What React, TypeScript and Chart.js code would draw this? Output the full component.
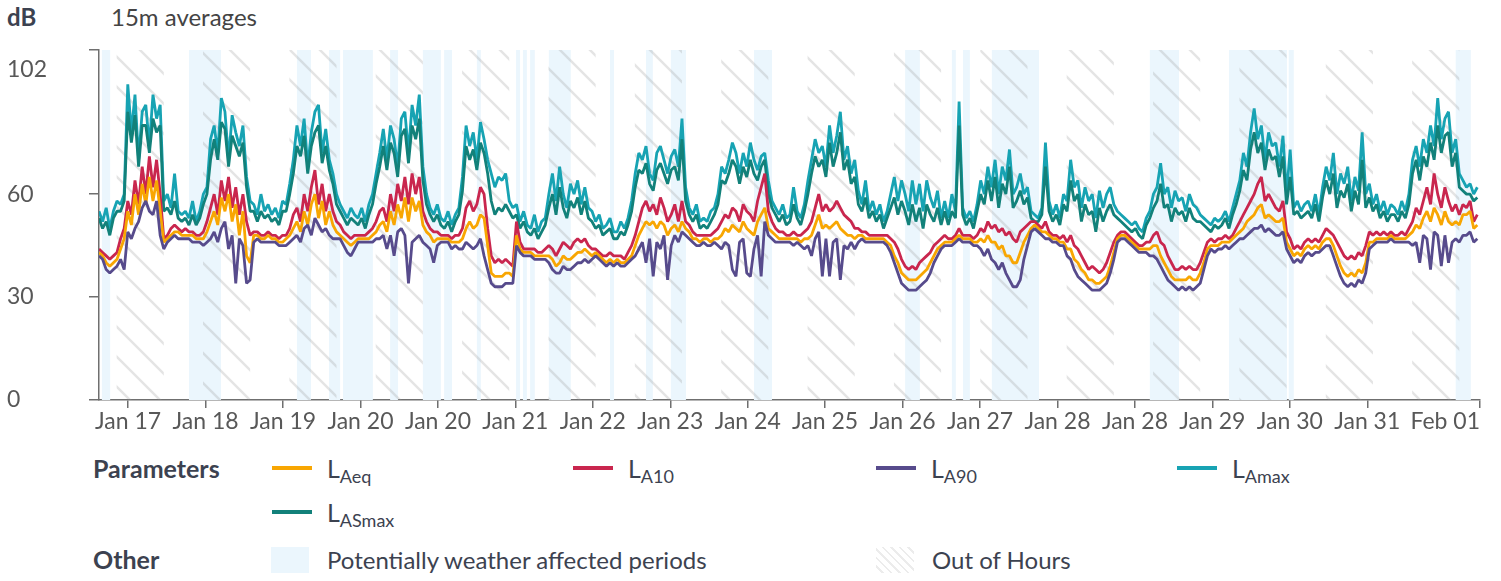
import React, { useEffect, useRef } from 'react';
import { Chart, registerables } from 'chart.js';

Chart.register(...registerables);

// ---------- data (hourly readings, hour 0 = Jan 17 00:00) ----------
const X_MIN = 0;
const X_MAX = 383.75;
const Y_MIN = 0;
const Y_MAX = 102;
const Y_TICKS = [0, 30, 60, 102];
const X_TICK_HOURS = [0, 8.1, 29.62, 51.14, 72.66, 94.18, 115.7, 137.22, 158.74, 180.26, 201.78, 223.3, 244.82, 266.34, 287.86, 309.38, 330.9, 352.42, 383.75];
const X_TICK_LABELS = ['', 'Jan 17', 'Jan 18', 'Jan 19', 'Jan 20', 'Jan 20', 'Jan 21', 'Jan 22', 'Jan 23', 'Jan 24', 'Jan 25', 'Jan 26', 'Jan 27', 'Jan 28', 'Jan 28', 'Jan 29', 'Jan 30', 'Jan 31', 'Feb 01'];

const LAMAX = [
  55,52,56,50,55,58,57,60, 92,78,89,70,84,86,74,89,82,86, 58,60,56,66,55,54,
  55,53,58,52,55,60,62,76, 80,72,88,84,70,83,78,74,80,65, 58,57,54,60,55,57,
  54,56,53,58,57,63,70,80, 74,82,68,78,84,86,72,79,70,66, 60,57,55,53,56,54,
  53,56,52,57,60,66,72,79, 70,80,76,68,82,84,72,86,80,89, 68,60,56,54,57,53,
  52,55,51,54,56,65,80,74, 78,70,81,76,70,66,62,65,64,66, 58,56,57,52,55,51,
  50,54,49,52,53,60,66,58, 68,60,56,63,60,64,57,62,56,55, 52,54,50,51,53,49,
  49,52,50,53,58,66,72,70, 74,66,64,72,74,70,66,71,73,68, 82,62,56,54,57,52,
  53,52,55,56,60,68,66,70, 75,72,66,72,68,75,70,67,71,72, 64,58,56,54,57,53,
  54,62,55,53,57,64,70,76, 72,74,68,80,72,77,84,70,74,66, 70,61,57,64,55,58,
  54,57,52,55,60,65,58,64, 60,55,64,57,63,55,64,59,56,61, 53,58,53,60,55,87,
  56,53,55,52,57,64,60,68, 62,70,60,68,64,73,60,62,66,60, 62,55,54,53,56,75,
  58,54,57,53,60,58,70,62, 64,56,62,58,60,53,61,56,60,62, 57,55,54,53,52,51,
  52,50,49,53,55,60,62,69, 60,62,56,61,58,59,55,60,57,56, 54,53,52,51,53,52,
  53,55,52,56,60,64,72,68, 78,85,76,80,70,78,74,75,68,77, 60,73,56,58,55,57,
  58,55,60,54,62,68,64,72, 60,66,63,68,58,65,61,78,60,63, 57,60,55,58,54,57,
  56,54,58,55,60,70,74,68, 76,72,80,74,88,76,82,84,72,76, 66,64,62,63,60,62,
];

const LASMAX = [
  53,50,52,48,53,55,55,58, 84,75,83,68,80,80,72,82,78,80, 55,56,54,58,53,52,
  53,51,54,51,53,57,60,70, 76,70,81,79,68,77,74,71,75,62, 55,55,52,55,53,54,
  52,53,51,55,55,60,66,74, 71,77,66,74,78,80,69,74,67,63, 57,55,53,51,53,52,
  51,53,50,54,57,63,68,74, 67,75,72,65,77,79,69,80,76,82, 64,57,54,52,54,51,
  50,52,49,52,54,61,74,70, 73,67,75,72,66,58,54,56,55,57, 55,53,54,50,52,49,
  48,50,47,49,51,56,60,54, 62,56,53,58,56,59,54,58,53,52, 50,51,48,49,50,47,
  47,49,48,51,55,62,67,66, 69,63,61,67,69,66,63,67,68,64, 76,58,54,52,54,50,
  51,50,52,54,57,64,63,66, 70,68,63,68,65,70,66,64,68,70, 60,56,54,52,54,51,
  52,57,53,51,55,60,66,71, 68,70,65,75,68,72,78,67,70,63, 65,57,55,59,53,55,
  52,54,50,53,56,59,54,58, 55,51,57,52,56,50,57,54,52,56, 51,55,51,55,53,80,
  54,51,53,50,55,60,57,64, 58,65,56,63,60,68,56,58,61,57, 59,53,52,52,54,68,
  55,52,54,51,57,55,64,58, 60,52,57,54,55,49,56,52,55,57, 54,53,52,51,50,49,
  50,48,47,51,53,56,58,63, 56,57,52,56,54,55,52,56,53,52, 52,51,50,49,51,50,
  51,53,50,54,57,61,67,64, 73,78,72,75,67,73,70,71,65,71, 57,65,54,55,53,54,
  55,53,57,52,59,64,60,66, 56,61,59,63,55,61,57,70,56,59, 55,57,53,55,52,54,
  54,52,55,53,57,66,70,64, 71,68,75,70,80,72,77,78,68,72, 62,61,60,60,58,59,
];

const LA10 = [
  44,43,42,41,42,43,47,50, 58,54,64,57,68,60,71,62,70,60, 47,48,50,51,50,49,
  50,49,49,48,48,49,52,56, 60,54,64,58,65,56,62,54,60,52, 48,49,49,48,48,49,
  48,48,47,48,48,50,54,56, 52,60,55,62,67,57,63,55,60,55, 52,51,49,48,47,48,
  48,48,48,49,50,52,55,56, 52,60,55,63,58,65,57,66,60,65, 55,52,50,49,49,48,
  48,48,47,48,48,50,56,58, 55,57,62,60,50,42,40,41,40,41, 40,39,52,46,44,44,
  44,44,43,43,44,45,44,42, 44,46,45,44,46,47,46,47,45,44, 44,43,42,42,43,42,
  42,42,41,43,45,48,52,56, 58,55,57,54,59,56,52,54,57,52, 58,52,51,49,48,48,
  48,48,48,49,50,52,54,53, 56,55,52,57,55,54,52,58,62,66, 55,52,50,49,49,48,
  48,49,48,48,49,50,52,56, 60,55,57,55,56,58,56,54,53,52, 50,50,49,49,48,48,
  48,48,48,48,47,46,44,41, 39,38,39,38,40,41,42,43,45,46, 47,48,47,47,48,50,
  48,48,48,47,48,50,49,52, 50,51,49,50,48,49,47,46,49,50, 51,52,52,51,50,52,
  49,48,48,47,48,46,48,45, 44,42,40,38,39,38,37,38,40,43, 46,48,49,49,48,47,
  46,45,45,46,46,48,49,46, 45,42,40,38,38,39,38,39,38,38, 40,43,46,47,46,47,
  47,48,47,48,50,52,54,56, 58,60,63,65,58,60,58,56,55,58, 49,47,44,45,44,46,
  47,46,47,46,48,50,49,48, 46,44,42,41,42,41,43,42,45,49, 48,49,48,49,48,49,
  48,48,49,48,50,52,56,54, 58,62,57,66,60,56,62,58,55,57, 54,57,56,58,52,54,
];

const LAEQ = [
  43,42,40,39,40,41,44,47, 55,51,60,54,63,57,65,58,64,55, 46,47,48,49,49,48,
  48,48,48,47,47,47,49,52, 55,51,59,55,60,52,57,48,55,42, 40,48,48,47,47,48,
  47,47,46,46,47,48,50,52, 49,55,51,57,60,53,58,51,55,51, 49,48,47,46,45,46,
  47,47,47,47,48,49,51,52, 49,55,51,57,53,59,52,59,55,58, 51,49,48,46,47,47,
  47,47,46,46,46,47,50,52, 50,51,54,53,45,37,36,36,36,37, 37,36,48,44,43,43,
  43,42,42,42,42,42,41,39, 40,42,41,41,42,43,43,44,43,42, 43,42,41,40,41,40,
  41,40,40,41,42,45,48,50, 52,51,52,50,52,51,48,50,51,49, 52,50,49,47,47,46,
  47,47,46,47,47,48,50,49, 51,50,49,52,50,49,48,52,54,56, 50,49,48,47,47,47,
  47,47,47,46,47,47,48,51, 54,50,51,50,51,52,50,49,48,48, 47,48,48,47,47,47,
  47,47,47,46,45,42,40,37, 36,35,35,35,36,37,38,40,42,44, 45,46,46,46,47,48,
  47,47,47,46,46,47,46,48, 46,46,44,45,42,42,40,40,43,46, 48,50,51,50,49,49,
  48,47,47,46,46,44,44,41, 40,38,37,35,35,34,34,35,36,39, 43,47,48,48,47,46,
  45,44,44,44,44,45,45,42, 40,38,36,35,35,35,35,36,35,35, 37,40,44,45,45,45,
  46,46,46,47,48,49,50,52, 53,54,56,57,53,54,53,52,52,53, 46,44,42,43,42,44,
  45,44,45,44,46,47,47,45, 42,39,37,36,37,36,38,37,40,46, 46,47,47,47,47,48,
  47,47,47,47,48,49,51,50, 53,55,52,56,54,51,55,52,51,52, 51,54,54,55,50,51,
];

const LA90 = [
  42,41,38,37,38,39,41,38, 49,47,50,52,56,58,55,54,58,48, 44,46,47,48,47,47,
  47,47,46,46,46,45,46,47, 49,46,50,52,44,48,34,47,45,34, 35,46,47,46,46,46,
  46,46,45,45,45,46,47,48, 46,50,51,48,53,51,49,50,48,47, 47,47,45,43,42,44,
  46,46,46,46,46,47,47,48, 44,48,42,49,50,48,34,46,47,48, 46,45,44,40,45,46,
  46,46,44,45,44,44,46,45, 44,45,47,42,38,34,33,33,33,34, 34,34,45,43,42,42,
  42,41,41,41,41,40,38,37, 37,39,38,38,39,40,40,41,40,41, 42,41,40,39,40,39,
  40,39,39,40,41,42,44,46, 40,47,36,46,44,48,35,45,48,46, 49,48,47,46,45,45,
  46,45,45,46,45,44,46,45, 38,36,46,47,37,36,44,48,36,52, 48,47,46,46,46,46,
  46,45,46,45,44,45,42,47, 49,36,47,36,46,47,35,45,44,46, 44,46,47,46,46,46,
  46,46,46,45,43,40,37,34, 33,32,32,32,33,34,35,37,40,42, 44,45,45,45,46,47,
  46,46,46,45,45,44,42,44, 41,40,38,40,37,35,33,33,35,41, 45,49,50,49,48,47,
  47,46,46,45,45,42,41,38, 36,35,34,33,32,32,32,33,34,37, 41,46,47,47,46,45,
  44,43,43,43,42,42,41,39, 37,35,34,33,32,33,32,33,32,33, 34,38,42,44,43,44,
  44,45,44,45,46,47,47,48, 49,50,50,51,49,50,49,48,48,49, 44,42,40,41,40,42,
  43,42,43,43,44,45,45,42, 39,36,34,33,34,33,35,34,37,44, 45,46,46,46,46,47,
  46,46,46,46,46,45,46,40, 48,47,38,49,48,39,48,40,46,47, 46,48,48,49,46,47,
];

// Potentially weather affected periods (hours)
const WEATHER_START = [0.8, 25.0, 55.0, 63.9, 67.8, 80.9, 90.0, 95.9, 105.0, 115.9, 117.8, 119.8, 125.0, 142.0, 152.0, 158.9, 182.0, 224.0, 237.0, 240.1, 248.1, 292.0, 314.0, 330.6, 377.0];
const WEATHER_END   = [3.1, 33.9, 58.9, 67.0, 76.1, 83.1, 95.0, 98.1, 106.1, 117.0, 118.9, 121.1, 131.1, 143.1, 153.9, 163.1, 187.0, 228.1, 238.1, 242.0, 261.2, 300.1, 330.1, 332.0, 381.2];

// Out of hours periods (hours)
const OOH_START = [4.9, 28.9, 52.9, 76.9, 100.9, 124.9, 148.9, 172.9, 196.9, 220.9, 244.9, 268.9, 292.9, 316.9, 340.9, 364.9];
const OOH_END   = [18.0, 42.0, 66.0, 90.0, 114.0, 138.0, 162.0, 186.0, 210.0, 234.0, 258.0, 282.0, 306.0, 330.0, 354.0, 378.0];

const SERIES_NAMES = ['LAeq', 'LA10', 'LA90', 'LAmax', 'LASmax'];
const SERIES_SUBS = ['Aeq', 'A10', 'A90', 'Amax', 'ASmax'];

// ---------- styles ----------
const FONT = "Lato, 'Noto Sans', sans-serif";
const TEXT_DARK = '#3c4250';
const TICK_COLOR = '#585858';
const AXIS_COLOR = '#6f6f6f';
const C_LAEQ = '#f8a602';
const C_LA10 = '#c9264e';
const C_LA90 = '#574b8c';
const C_LAMAX = '#17a3b3';
const C_LASMAX = '#12817a';
const WEATHER_COLOR = '#ebf6fd';
const HATCH_COLOR = 'rgba(150,150,150,0.26)';

function makeHatch(size: number): HTMLCanvasElement {
  const c = document.createElement('canvas');
  c.width = size;
  c.height = size;
  const g = c.getContext('2d')!;
  g.strokeStyle = HATCH_COLOR;
  g.lineWidth = 2.5;
  g.beginPath();
  g.moveTo(-3, -3); g.lineTo(size + 3, size + 3);
  g.moveTo(-3, size - 3); g.lineTo(3, size + 3);
  g.moveTo(size - 3, -3); g.lineTo(size + 3, 3);
  g.stroke();
  return c;
}

const toPoints = (arr: number[]) => arr.map((v, i) => ({ x: i, y: v }));

export default function App() {
  const ref = useRef<HTMLCanvasElement>(null);

  useEffect(() => {
    const canvas = ref.current!;
    const tile = makeHatch(30);
    const pattern = canvas.getContext('2d')!.createPattern(tile, 'repeat');

    const bandsPlugin = {
      id: 'bands',
      beforeDatasetsDraw(chart: any) {
        const { ctx, chartArea, scales } = chart;
        const { top, bottom, left, right } = chartArea;
        const xs = scales.x;
        ctx.save();
        ctx.beginPath();
        ctx.rect(left, top, right - left, bottom - top);
        ctx.clip();
        ctx.fillStyle = WEATHER_COLOR;
        WEATHER_START.forEach((s, i) => {
          const a = xs.getPixelForValue(s);
          const b = xs.getPixelForValue(WEATHER_END[i]);
          ctx.fillRect(a, top, b - a, bottom - top);
        });
        ctx.fillStyle = pattern;
        OOH_START.forEach((s, i) => {
          const a = xs.getPixelForValue(s);
          const b = xs.getPixelForValue(OOH_END[i]);
          ctx.fillRect(a, top, b - a, bottom - top);
        });
        ctx.restore();
      },
    };

    const ds = (label: string, data: number[], color: string, order: number) => ({
      label,
      data: toPoints(data),
      borderColor: color,
      backgroundColor: color,
      borderWidth: 2.8,
      pointRadius: 0,
      tension: 0,
      borderJoinStyle: 'bevel' as const,
      order,
    });

    const chart = new Chart(canvas, {
      type: 'line',
      data: {
        datasets: [
          ds(SERIES_NAMES[0], LAEQ, C_LAEQ, 1),
          ds(SERIES_NAMES[1], LA10, C_LA10, 2),
          ds(SERIES_NAMES[2], LA90, C_LA90, 0),
          ds(SERIES_NAMES[3], LAMAX, C_LAMAX, 4),
          ds(SERIES_NAMES[4], LASMAX, C_LASMAX, 3),
        ],
      },
      options: {
        animation: false,
        responsive: false,
        devicePixelRatio: 1,
        events: [],
        layout: { padding: { left: 7, top: 50, right: 21, bottom: 0 } },
        plugins: {
          legend: { display: false },
          tooltip: { enabled: false },
          title: { display: false },
        },
        scales: {
          x: {
            type: 'linear',
            min: X_MIN,
            max: X_MAX,
            afterBuildTicks: (s: any) => { s.ticks = X_TICK_HOURS.map((v) => ({ value: v })); },
            afterFit: (s: any) => { s.height = 45; },
            ticks: {
              autoSkip: false,
              maxRotation: 0,
              minRotation: 0,
              align: 'inner',
              padding: 0,
              color: TICK_COLOR,
              font: { family: FONT, size: 23 },
              callback: (_v: any, i: number) => X_TICK_LABELS[i],
            },
            grid: {
              drawOnChartArea: false,
              drawTicks: true,
              tickLength: 8,
              lineWidth: 1.5,
              color: (c: any) => (c.index === 0 ? 'rgba(0,0,0,0)' : AXIS_COLOR),
            },
            border: { display: true, color: AXIS_COLOR, width: 1.5 },
          },
          y: {
            type: 'linear',
            min: Y_MIN,
            max: Y_MAX,
            afterBuildTicks: (s: any) => { s.ticks = Y_TICKS.map((v) => ({ value: v })); },
            afterFit: (s: any) => { s.width = 92; },
            ticks: {
              crossAlign: 'far',
              color: TICK_COLOR,
              font: { family: FONT, size: 23, lineHeight: '40px' },
              callback: (v: any) => (v === Y_MAX ? ['', String(v)] : String(v)),
            },
            grid: {
              drawOnChartArea: false,
              drawTicks: true,
              tickLength: 10,
              lineWidth: 1.5,
              color: AXIS_COLOR,
            },
            border: { display: true, color: AXIS_COLOR, width: 1.5 },
          },
        },
      } as any,
      plugins: [bandsPlugin],
    });
    return () => chart.destroy();
  }, []);

  const seriesColors = [C_LAEQ, C_LA10, C_LA90, C_LAMAX, C_LASMAX];
  const legendPos = [
    { left: 272, row: 0 },
    { left: 573, row: 0 },
    { left: 876, row: 0 },
    { left: 1177, row: 0 },
    { left: 272, row: 1 },
  ];

  const textStyle = (left: number, top: number, size: number, bold = false, color = TEXT_DARK): React.CSSProperties => ({
    position: 'absolute',
    left,
    top,
    fontSize: size,
    lineHeight: `${Math.round(size * 1.2)}px`,
    fontWeight: bold ? 700 : 400,
    color,
    whiteSpace: 'nowrap',
    fontFamily: FONT,
  });

  return (
    <div style={{ position: 'absolute', left: 0, top: 0, width: 1501, height: 581, background: '#fff', fontFamily: FONT, overflow: 'hidden' }}>
      <div style={textStyle(7, 2, 24, true)}>dB</div>
      <div style={textStyle(111, 2, 24, false, '#444')}>15m averages</div>
      <canvas ref={ref} width={1501} height={445} style={{ position: 'absolute', left: 0, top: 0, width: 1501, height: 445 }} />

      <div style={textStyle(93, 453, 25, true)}>Parameters</div>
      {SERIES_SUBS.map((sub, i) => {
        const p = legendPos[i];
        const swatchY = p.row === 0 ? 466 : 510;
        const textTop = p.row === 0 ? 453 : 497;
        return (
          <React.Fragment key={sub}>
            <div style={{ position: 'absolute', left: p.left, top: swatchY, width: 40, height: 4, background: seriesColors[i] }} />
            <div style={{ ...textStyle(p.left + 55, textTop, 25, false, TEXT_DARK), lineHeight: '30px' }}>
              L<span style={{ fontSize: 18, position: 'relative', top: 5 }}>{sub}</span>
            </div>
          </React.Fragment>
        );
      })}

      <div style={textStyle(93, 544, 25, true)}>Other</div>
      <div style={{ position: 'absolute', left: 271, top: 547, width: 38, height: 26, background: WEATHER_COLOR }} />
      <div style={textStyle(327, 545, 24)}>Potentially weather affected periods</div>
      <div style={{ position: 'absolute', left: 876, top: 547, width: 38, height: 26, backgroundImage: 'repeating-linear-gradient(45deg, #fff 0px, #fff 4px, #ececec 4px, #ececec 6px)' }} />
      <div style={textStyle(932, 545, 24)}>Out of Hours</div>
    </div>
  );
}
